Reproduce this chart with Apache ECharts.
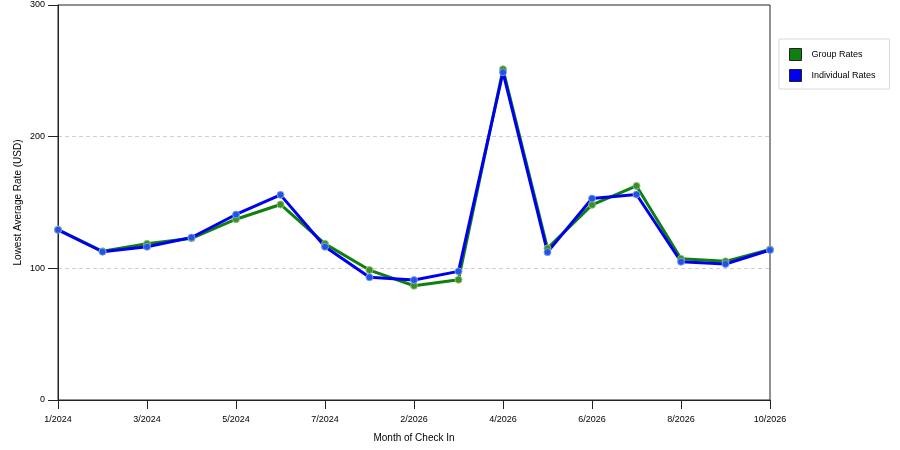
<!DOCTYPE html>
<html>
  <head>
    <meta charset="utf-8">
    <title>rates</title>
    <script src="https://cdn.jsdelivr.net/npm/echarts@6/dist/echarts.min.js"></script>
    <style>
      html, body { margin: 0; padding: 0; background: #fff; }
      #chart { width: 900px; height: 450px; }
    </style>
  </head>
  <body>
    <div id="chart"></div>
    <script type="text/javascript">
        // data
        var months = ['1/2024', '2/2024', '3/2024', '4/2024', '5/2024', '6/2024', '7/2024', '8/2024',
                      '2/2026', '3/2026', '4/2026', '5/2026', '6/2026', '7/2026', '8/2026', '9/2026', '10/2026'];
        var groupRates = [129.5, 112.9, 118.6, 122.8, 137.3, 148.5, 118.6, 98.7,
                          86.8, 91.4, 251.2, 115.2, 148.2, 162.6, 107.3, 105.3, 114.4];
        var individualRates = [129.2, 112.6, 116.4, 123.4, 140.9, 155.8, 116.4, 93.2,
                               91.1, 97.7, 248.9, 112.3, 153.0, 156.1, 105.0, 103.3, 113.9];

        var font = 'Liberation Sans';
        var myChart = echarts.init(document.getElementById('chart'));
        myChart.setOption({
            animation: false,
            grid: {
                left: 58, right: 130, top: 5, bottom: 50,
                show: true, borderColor: '#222', borderWidth: 1, backgroundColor: '#fff'
            },
            legend: {
                orient: 'vertical',
                left: 779, top: 39,
                padding: [9, 14, 7, 10],
                itemGap: 8,
                itemWidth: 12, itemHeight: 12,
                borderColor: '#d8d8d8', borderWidth: 1,
                icon: 'rect',
                textStyle: { fontFamily: font, fontSize: 9, color: '#000', padding: [0, 0, 0, 5] },
                data: [
                    { name: 'Group Rates', itemStyle: { color: '#0f800f', borderColor: '#222', borderWidth: 1 } },
                    { name: 'Individual Rates', itemStyle: { color: '#0000f0', borderColor: '#222', borderWidth: 1 } }
                ]
            },
            xAxis: {
                type: 'category',
                data: months,
                boundaryGap: false,
                name: 'Month of Check In',
                nameLocation: 'middle',
                nameGap: 33,
                nameTextStyle: { fontFamily: font, fontSize: 10, color: '#000' },
                axisLine: { lineStyle: { color: '#222' } },
                axisTick: { interval: 1, length: 9, lineStyle: { color: '#222' } },
                axisLabel: { interval: 1, fontFamily: font, fontSize: 9, color: '#000', margin: 15 }
            },
            yAxis: {
                type: 'value',
                min: 0, max: 300, interval: 100,
                name: 'Lowest Average Rate (USD)',
                nameLocation: 'middle',
                nameGap: 35,
                nameMoveOverlap: false,
                nameTextStyle: { fontFamily: font, fontSize: 10, color: '#000' },
                axisLine: { show: true, lineStyle: { color: '#222' } },
                axisTick: { show: true, length: 10, lineStyle: { color: '#222' } },
                axisLabel: { fontFamily: font, fontSize: 9, color: '#000', margin: 13 },
                splitLine: { showMaxLine: false, lineStyle: { color: '#d0d0d0', type: [4, 3] } }
            },
            series: [{
                name: 'Group Rates',
                type: 'line',
                data: groupRates,
                symbol: 'circle',
                symbolSize: 7,
                lineStyle: { color: '#0f800f', width: 3 },
                itemStyle: { color: '#3a8f2a', borderColor: 'rgba(150,190,120,0.9)', borderWidth: 1 }
            }, {
                name: 'Individual Rates',
                type: 'line',
                data: individualRates,
                symbol: 'circle',
                symbolSize: 7,
                lineStyle: { color: '#0000f0', width: 3 },
                itemStyle: { color: '#1f55e0', borderColor: 'rgba(130,160,240,0.9)', borderWidth: 1 }
            }]
        });
    </script>
  </body>
</html>
